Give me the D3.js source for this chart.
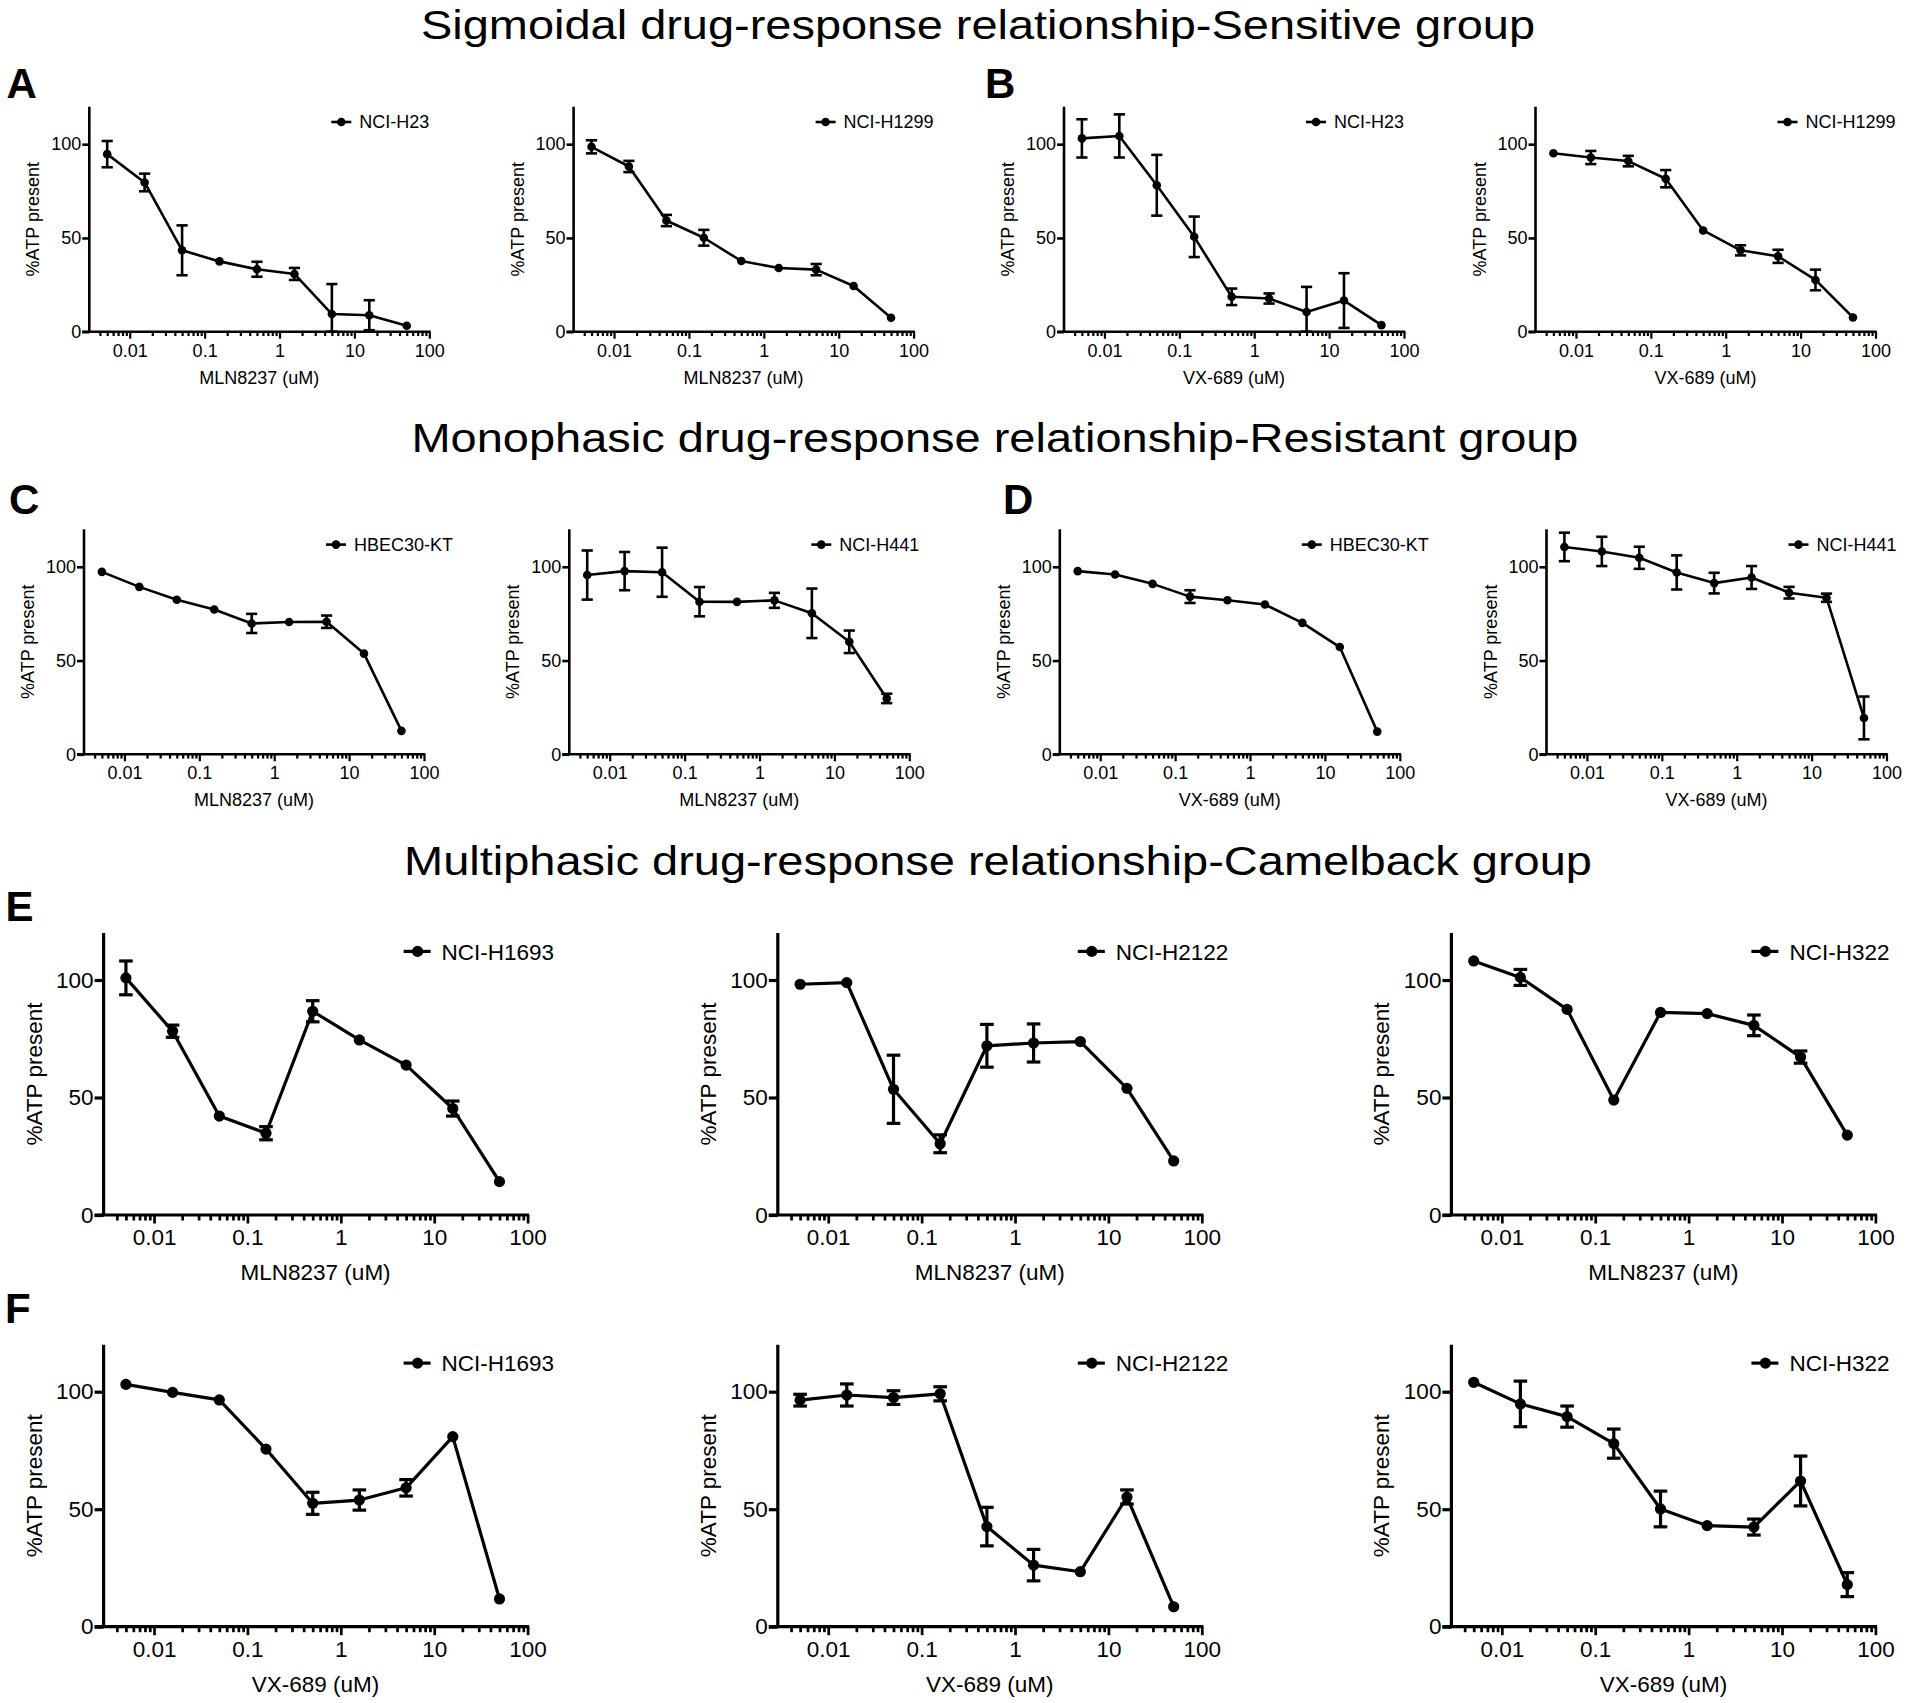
<!DOCTYPE html>
<html><head><meta charset="utf-8">
<script src="https://cdn.jsdelivr.net/npm/d3@7"></script>
<style>
body{margin:0;background:#fff}
svg{display:block}
text{font-family:"Liberation Sans",Arial,Helvetica,sans-serif;fill:#000}
</style>
</head><body><svg id="c" width="1920" height="1703"></svg>
<script>
// ---------- DATA ----------
const doses = [0.005, 0.0158, 0.05, 0.158, 0.5, 1.58, 5, 15.8, 50];
const xTickValues = [0.01, 0.1, 1, 10, 100];
const xTickLabels = ["0.01", "0.1", "1", "10", "100"];
const yTickValues = [0, 50, 100];
const yTickLabels = ["0", "50", "100"];
const yLabel = "%ATP present";
const titles = [
  "Sigmoidal drug-response relationship-Sensitive group",
  "Monophasic drug-response relationship-Resistant group",
  "Multiphasic drug-response relationship-Camelback group"
];
const panelLetters = ["A", "B", "C", "D", "E", "F"];
const drugs = ["MLN8237 (uM)", "VX-689 (uM)"];
const cellLines = ["NCI-H23", "NCI-H1299", "HBEC30-KT", "NCI-H441", "NCI-H1693", "NCI-H2122", "NCI-H322"];

// A: MLN8237 sensitive
const a1Mean = [94.7, 79.6, 43.4, 37.5, 33.3, 30.8, 9.4, 8.8, 3.2];
const a1Err  = [7, 4.7, 13.3, 1, 4, 3.2, 16, 8, 1];
const a2Mean = [98.6, 88.1, 59.3, 50.1, 37.7, 34.0, 33.1, 24.4, 7.4];
const a2Err  = [3.5, 3, 3, 4.2, 1, 1, 3, 1, 1];
// B: VX-689 sensitive
const b1Mean = [103.1, 104.4, 78.1, 50.6, 18.6, 17.7, 10.5, 16.6, 3.5];
const b1Err  = [10.2, 11.5, 16.2, 10.8, 4.4, 2.7, 13.4, 14.6, 1];
const b2Mean = [95.2, 92.9, 91.0, 81.6, 54.0, 43.4, 40.2, 27.6, 7.6];
const b2Err  = [1, 3.5, 2.8, 4.6, 1, 2.7, 3.5, 5.5, 1];
// C: MLN8237 resistant
const c1Mean = [97.3, 89.3, 82.4, 77.2, 69.8, 70.6, 70.7, 53.7, 12.5];
const c1Err  = [1, 1, 1, 1, 5.1, 1, 3.3, 1, 1];
const c2Mean = [95.6, 97.7, 97.1, 81.4, 81.3, 82.1, 75.2, 60.0, 29.8];
const c2Err  = [13.1, 10.2, 13.1, 7.8, 1, 4, 13.2, 6, 2.5];
// D: VX-689 resistant
const d1Mean = [97.7, 95.9, 90.9, 84.1, 82.2, 79.9, 70.1, 57.2, 12.1];
const d1Err  = [1, 1, 1, 3.4, 1, 1, 1, 1, 1];
const d2Mean = [110.6, 108.2, 104.8, 97.0, 91.3, 94.3, 86.2, 83.5, 19.4];
const d2Err  = [7.6, 7.8, 5.9, 9.1, 5.5, 6.1, 3.1, 2.2, 11.4];
// E: MLN8237 camelback
const e1Mean = [100.9, 78.2, 42.1, 34.8, 86.7, 74.5, 63.8, 45.3, 14.2];
const e1Err  = [7.2, 2.6, 1, 2.8, 4.5, 1, 1, 3.2, 1];
const e2Mean = [98.2, 98.9, 53.5, 30.3, 72.0, 73.2, 73.8, 53.9, 23.0];
const e2Err  = [1, 1, 14.5, 3.8, 9.1, 8.1, 1, 1, 1];
const e3Mean = [108.1, 101.1, 87.5, 48.9, 86.2, 85.7, 80.7, 67.2, 34.0];
const e3Err  = [1, 3.4, 1, 1, 1, 1, 4.4, 2.6, 1];
// F: VX-689 camelback
const f1Mean = [103.1, 99.7, 96.5, 75.6, 52.5, 53.9, 59.1, 80.9, 11.8];
const f1Err  = [1, 1, 1, 1, 4.7, 4.3, 3.5, 1, 1];
const f2Mean = [96.4, 98.6, 97.5, 99.1, 42.6, 26.2, 23.4, 55.2, 8.5];
const f2Err  = [2.5, 4.7, 2.9, 3, 8.2, 6.7, 1, 3, 1];
const f3Mean = [104.0, 94.8, 89.4, 77.9, 50.1, 43.0, 42.4, 62.0, 17.9];
const f3Err  = [1, 9.7, 4.5, 6.2, 7.6, 1, 3.4, 10.6, 5.1];

// ---------- LAYOUT ----------
const styles = {
  s: {w: 340, h: 225, font: 18, axisW: 2.6, lineW: 2.6, r: 4.3, cap: 5.6, major: 7, minor: 4.3, yTick: 7,
      xLabDy: 25, xTitleDy: 52, yTitleDx: 50, legDx: 270, legDy: 21.6, legL0: -28, legL1: -8, legM: -18, legMy: -6.3},
  l: {w: 424, h: 282, font: 22.5, axisW: 3.2, lineW: 3.2, r: 5.6, cap: 6.8, major: 8.5, minor: 5.5, yTick: 9,
      xLabDy: 30, xTitleDy: 65, yTitleDx: 62, legDx: 338, legDy: 26.7, legL0: -38, legL1: -11, legM: -24, legMy: -8.3}
};
const panels = [
  {cell: cellLines[0], drug: drugs[0], mean: a1Mean, err: a1Err, left: 89.3,   bottom: 331.7,  st: "s"},
  {cell: cellLines[1], drug: drugs[0], mean: a2Mean, err: a2Err, left: 573.6,  bottom: 331.7,  st: "s"},
  {cell: cellLines[0], drug: drugs[1], mean: b1Mean, err: b1Err, left: 1064,   bottom: 331.7,  st: "s"},
  {cell: cellLines[1], drug: drugs[1], mean: b2Mean, err: b2Err, left: 1535.5, bottom: 331.7,  st: "s"},
  {cell: cellLines[2], drug: drugs[0], mean: c1Mean, err: c1Err, left: 84,     bottom: 754.3,  st: "s"},
  {cell: cellLines[3], drug: drugs[0], mean: c2Mean, err: c2Err, left: 569.3,  bottom: 754.3,  st: "s"},
  {cell: cellLines[2], drug: drugs[1], mean: d1Mean, err: d1Err, left: 1059.8, bottom: 754.3,  st: "s"},
  {cell: cellLines[3], drug: drugs[1], mean: d2Mean, err: d2Err, left: 1546.5, bottom: 754.3,  st: "s"},
  {cell: cellLines[4], drug: drugs[0], mean: e1Mean, err: e1Err, left: 103.6,  bottom: 1215,   st: "l"},
  {cell: cellLines[5], drug: drugs[0], mean: e2Mean, err: e2Err, left: 777.8,  bottom: 1215,   st: "l"},
  {cell: cellLines[6], drug: drugs[0], mean: e3Mean, err: e3Err, left: 1451.4, bottom: 1215,   st: "l"},
  {cell: cellLines[4], drug: drugs[1], mean: f1Mean, err: f1Err, left: 103.6,  bottom: 1626.7, st: "l"},
  {cell: cellLines[5], drug: drugs[1], mean: f2Mean, err: f2Err, left: 777.8,  bottom: 1626.7, st: "l"},
  {cell: cellLines[6], drug: drugs[1], mean: f3Mean, err: f3Err, left: 1451.4, bottom: 1626.7, st: "l"}
];
const titlePos = [{cx: 978, y: 38.5, w: 1114}, {cx: 995, y: 452, w: 1167}, {cx: 998, y: 875, w: 1188}];
const letterPos = [{x: 6.5, y: 97.5}, {x: 985, y: 98}, {x: 9, y: 514}, {x: 1003, y: 514}, {x: 5.5, y: 921}, {x: 5, y: 1323}];

const svg = d3.select("#c");

// titles
titles.forEach((t, i) => {
  svg.append("text").text(t)
    .attr("x", titlePos[i].cx).attr("y", titlePos[i].y)
    .attr("text-anchor", "middle").attr("font-size", 40)
    .attr("textLength", titlePos[i].w).attr("lengthAdjust", "spacingAndGlyphs");
});
panelLetters.forEach((l, i) => {
  svg.append("text").text(l).attr("x", letterPos[i].x).attr("y", letterPos[i].y)
    .attr("font-size", 42).attr("font-weight", "bold");
});

const xMin = Math.pow(10, -2.54);
const minorVals = [];
for (let k = -3; k <= 2; k++) for (let m = 1; m <= 9; m++) {
  const v = m * Math.pow(10, k);
  if (v >= xMin * 1.05 && v <= 100.0001) minorVals.push(v);
}

panels.forEach(p => {
  const s = styles[p.st];
  const top = p.bottom - s.h;
  const x = d3.scaleLog().domain([xMin, 100]).range([p.left, p.left + s.w]);
  const y = d3.scaleLinear().domain([0, 120]).range([p.bottom, top]);
  const g = svg.append("g");

  // x axis: custom log ticks (major labelled, minor unlabelled)
  const xAxis = d3.axisBottom(x).tickValues(minorVals)
    .tickSizeOuter(0)
    .tickFormat(v => { const i = xTickValues.findIndex(t => Math.abs(t - v) / t < 1e-6); return i >= 0 ? xTickLabels[i] : ""; });
  const gx = g.append("g").attr("transform", `translate(0,${p.bottom})`).call(xAxis);
  gx.select(".domain").attr("stroke", "#000").attr("stroke-width", s.axisW)
    .attr("d", `M${p.left - s.yTick},0H${p.left + s.w + s.axisW / 2}`);
  gx.selectAll(".tick line").attr("stroke", "#000").attr("stroke-width", s.axisW * 0.85)
    .attr("y2", v => xTickValues.some(t => Math.abs(t - v) / t < 1e-6) ? s.major : s.minor);
  gx.selectAll(".tick text").attr("font-size", s.font).attr("font-family", null)
    .attr("y", s.xLabDy).attr("dy", 0).attr("fill", "#000");

  // y axis
  const yAxis = d3.axisLeft(y).tickValues(yTickValues).tickSize(s.yTick).tickSizeOuter(0)
    .tickFormat((v, i) => yTickLabels[i]);
  const gy = g.append("g").attr("transform", `translate(${p.left},0)`).call(yAxis);
  gy.select(".domain").attr("stroke", "#000").attr("stroke-width", s.axisW)
    .attr("d", `M0,${top}V${p.bottom}`);
  gy.selectAll(".tick line").attr("stroke", "#000").attr("stroke-width", s.axisW);
  gy.selectAll(".tick text").attr("font-size", s.font).attr("font-family", null)
    .attr("x", -s.yTick - 1).attr("fill", "#000");

  // axis titles
  g.append("text").text(p.drug).attr("x", p.left + s.w / 2).attr("y", p.bottom + s.xTitleDy)
    .attr("text-anchor", "middle").attr("font-size", s.font);
  g.append("text").text(yLabel)
    .attr("transform", `translate(${p.left - s.yTitleDx},${(top + p.bottom) / 2}) rotate(-90)`)
    .attr("text-anchor", "middle").attr("font-size", s.font);

  // data
  const pts = doses.map((d, i) => ({d, m: p.mean[i], e: p.err[i]}));
  g.append("path").datum(pts)
    .attr("d", d3.line().x(q => x(q.d)).y(q => y(q.m)))
    .attr("fill", "none").attr("stroke", "#000").attr("stroke-width", s.lineW).attr("stroke-linejoin", "round");
  const eb = g.append("g").attr("stroke", "#000").attr("stroke-width", s.lineW);
  pts.filter(q => q.e > 1.5).forEach(q => {
    const hi = y(q.m + q.e), lo = y(Math.max(0, q.m - q.e));
    eb.append("line").attr("x1", x(q.d)).attr("x2", x(q.d)).attr("y1", hi).attr("y2", lo);
    eb.append("line").attr("x1", x(q.d) - s.cap).attr("x2", x(q.d) + s.cap).attr("y1", hi).attr("y2", hi);
    eb.append("line").attr("x1", x(q.d) - s.cap).attr("x2", x(q.d) + s.cap).attr("y1", lo).attr("y2", lo);
  });
  g.selectAll("circle.pt").data(pts).enter().append("circle").attr("class", "pt")
    .attr("cx", q => x(q.d)).attr("cy", q => y(q.m)).attr("r", s.r).attr("fill", "#000");

  // legend
  const lx = p.left + s.legDx, ly = top + s.legDy;
  g.append("line").attr("x1", lx + s.legL0).attr("x2", lx + s.legL1).attr("y1", ly + s.legMy).attr("y2", ly + s.legMy)
    .attr("stroke", "#000").attr("stroke-width", s.lineW);
  g.append("circle").attr("cx", lx + s.legM).attr("cy", ly + s.legMy).attr("r", s.r).attr("fill", "#000");
  g.append("text").text(p.cell).attr("x", lx).attr("y", ly).attr("font-size", s.font);
});
</script>
</body></html>
